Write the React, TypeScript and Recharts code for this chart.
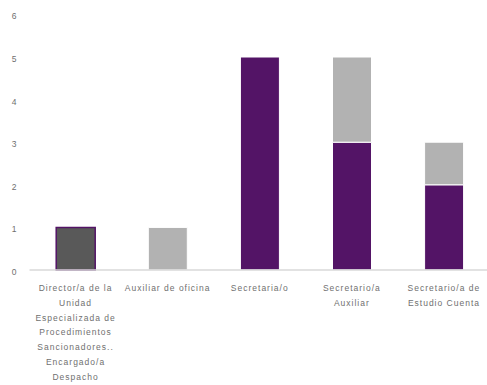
import React from "react";
import { BarChart, Bar, XAxis, YAxis } from "recharts";

const categories = [
  "Director/a de la\nUnidad\nEspecializada de\nProcedimientos\nSancionadores..\nEncargado/a\nDespacho",
  "Auxiliar de oficina",
  "Secretaria/o",
  "Secretario/a\nAuxiliar",
  "Secretario/a de\nEstudio Cuenta",
];
const darkValues = [1, 0, 0, 0, 0];
const purpleValues = [0, 0, 5, 3, 2];
const grayValues = [0, 1, 0, 2, 1];
const yTicks = [0, 1, 2, 3, 4, 5, 6];

const data = categories.map((c, i) => ({
  name: c,
  dark: darkValues[i],
  purple: purpleValues[i],
  gray: grayValues[i],
}));

const PURPLE = "#531466";
const GRAY = "#b2b2b2";
const DARK = "#595959";
const TEXT = "#6f6f6f";
const FONT = "'Liberation Sans', Arial, sans-serif";

const XTick = (props: any) => {
  const { x, y, payload } = props;
  const lines = String(payload.value).split("\n");
  return (
    <g>
      {lines.map((l: string, i: number) => (
        <text
          key={i}
          x={x}
          y={y + 13 + i * 14.8}
          textAnchor="middle"
          fontSize={8.5}
          fontFamily={FONT}
          fill={TEXT}
          letterSpacing={1}
        >
          {l}
        </text>
      ))}
    </g>
  );
};

const YTick = (props: any) => {
  const { y, payload } = props;
  return (
    <text
      x={14}
      y={y + 5}
      textAnchor="middle"
      fontSize={8.5}
      fontFamily={FONT}
      fill={TEXT}
    >
      {payload.value}
    </text>
  );
};

export default function App() {
  return (
    <div
      style={{
        position: "absolute",
        left: 0,
        top: 0,
        width: 487,
        height: 385,
        overflow: "hidden",
        background: "#fff",
      }}
    >
      <BarChart
        width={490}
        height={385}
        data={data}
        margin={{ top: 14.4, right: 0, bottom: 0, left: 0 }}
        barCategoryGap="29%"
      >
        <XAxis
          dataKey="name"
          height={115}
          interval={0}
          tickLine={false}
          axisLine={{ stroke: "#d9d9d9", strokeWidth: 1.5 }}
          tick={<XTick />}
        />
        <YAxis
          width={29.5}
          domain={[0, 6]}
          ticks={yTicks}
          tickLine={false}
          axisLine={false}
          tick={<YTick />}
        />
        <Bar dataKey="dark" stackId="a" fill={DARK} stroke={PURPLE} strokeWidth={1.5} isAnimationActive={false} />
        <Bar dataKey="purple" stackId="a" fill={PURPLE} stroke="#ffffff" strokeWidth={1} isAnimationActive={false} />
        <Bar dataKey="gray" stackId="a" fill={GRAY} stroke="#ffffff" strokeWidth={1} isAnimationActive={false} />
      </BarChart>
    </div>
  );
}
